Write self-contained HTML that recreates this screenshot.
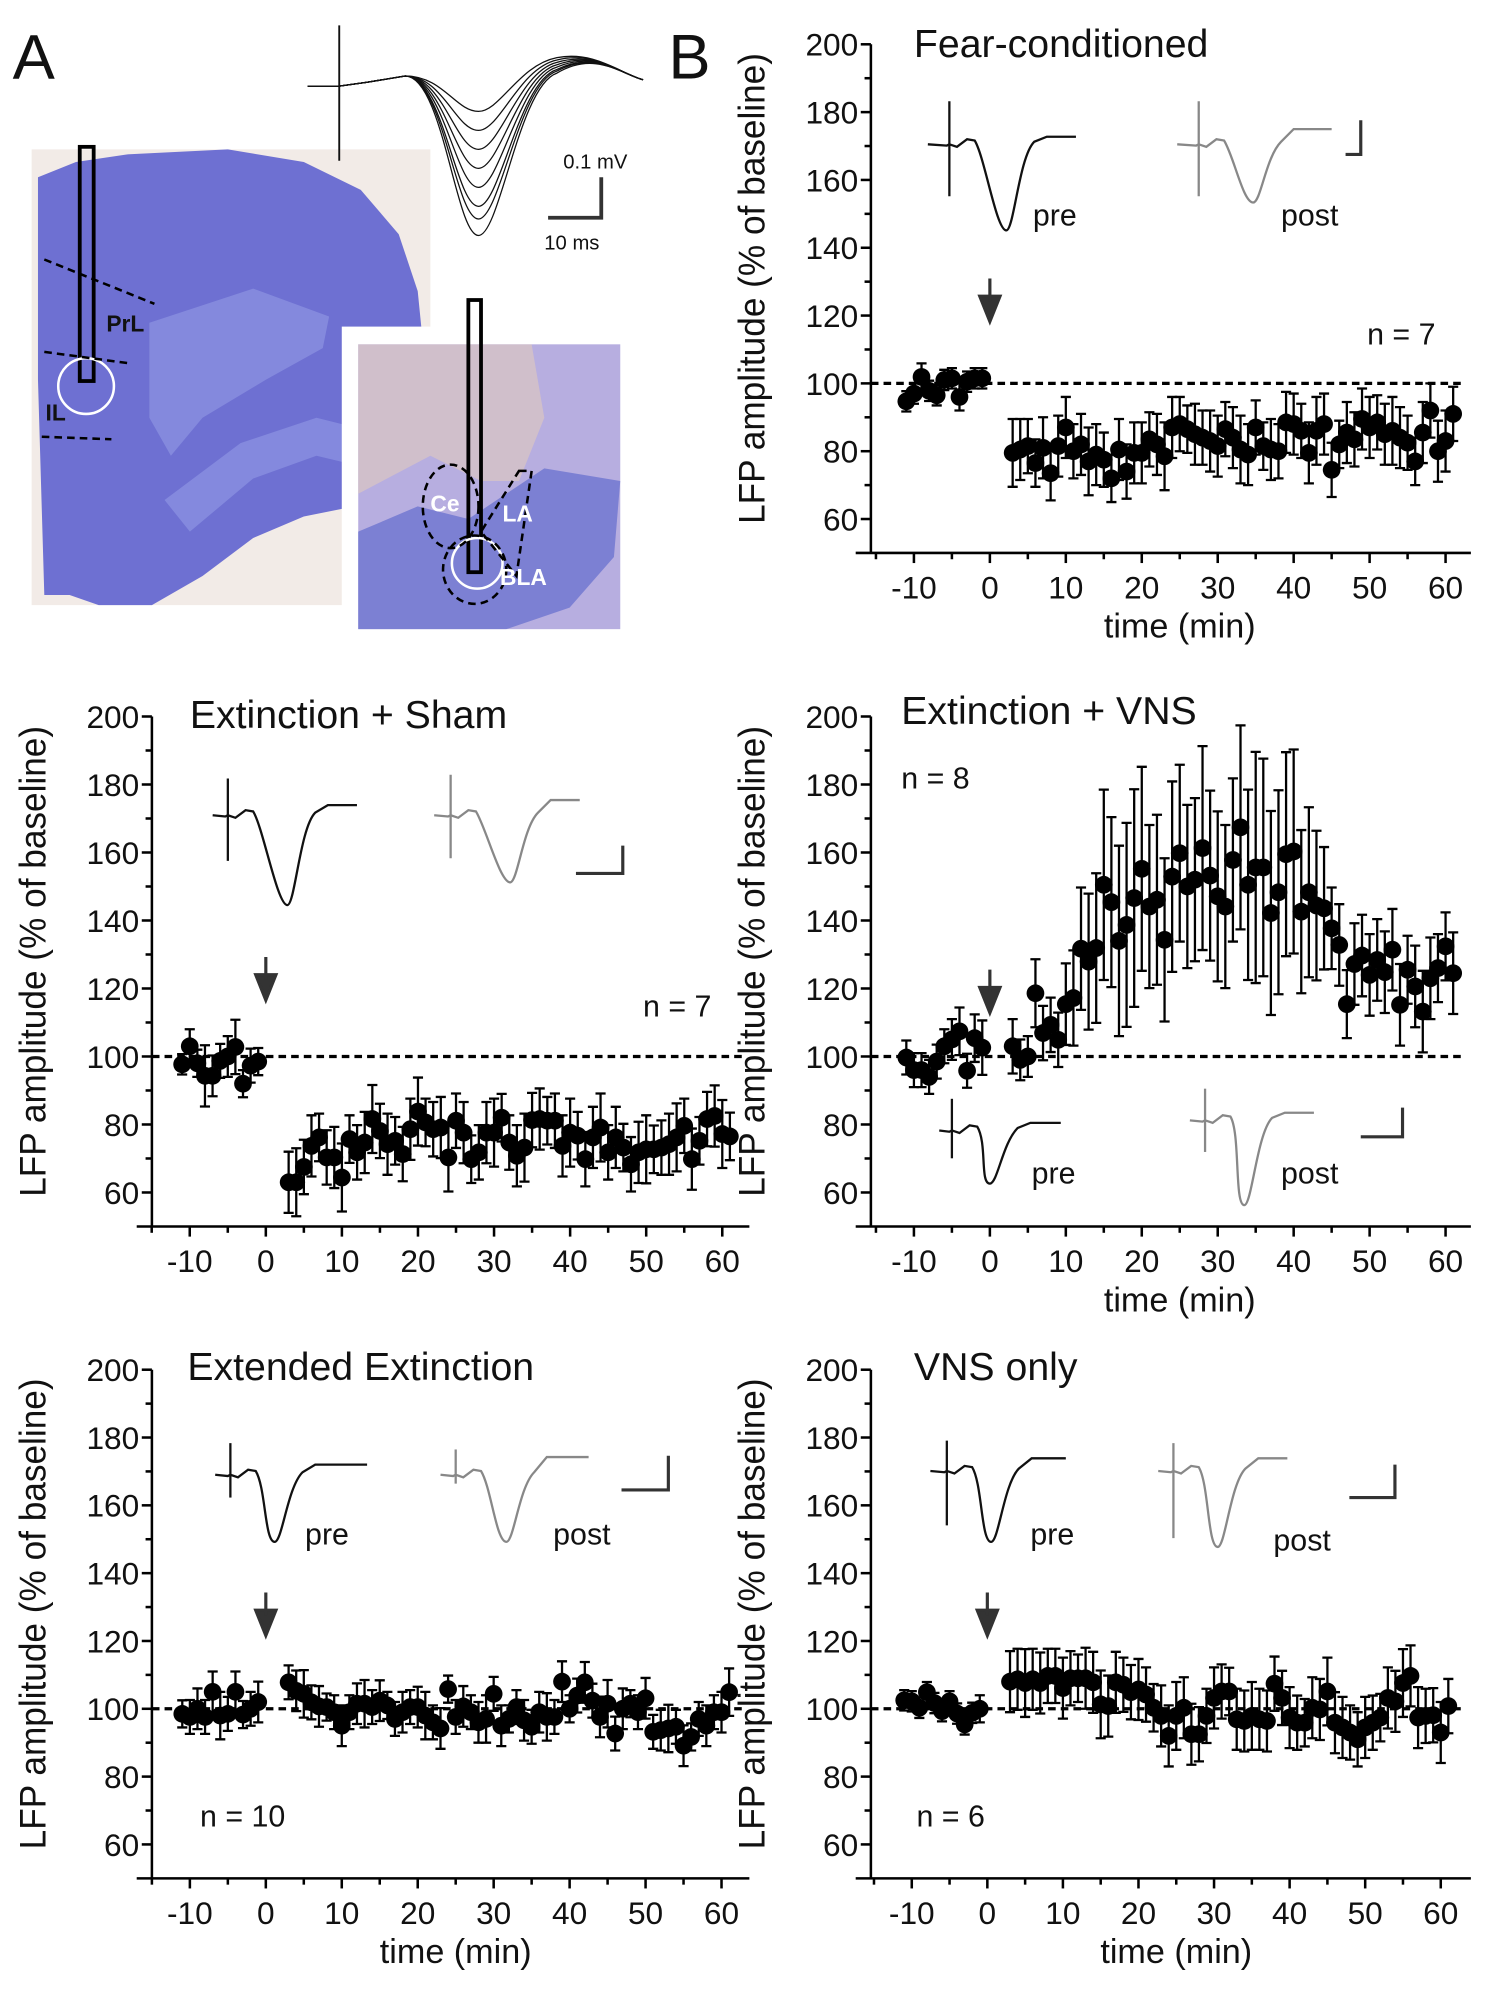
<!DOCTYPE html>
<html><head><meta charset="utf-8"><style>
html,body{margin:0;padding:0;background:#fff}
svg{display:block}
text{font-family:"Liberation Sans",Arial,sans-serif;fill:#111}
</style></head><body>
<svg id="fig" xmlns="http://www.w3.org/2000/svg" width="1500" height="1990" viewBox="0 0 1185 1572" preserveAspectRatio="none">
<rect width="1185" height="1572" fill="#fff"/>
<g id="panelA">
  <text x="10" y="62" font-size="50">A</text>
  <rect x="25" y="118" width="315" height="360" fill="#f2ebe7"/>
  <path fill="#6e70d2" d="M30,140 L60,128 L100,122 L180,118 L240,128 L285,150 L315,185 L330,230 L333,260 L333,378 L300,378 L280,400 L240,408 L200,425 L160,455 L120,478 L78,478 L55,470 L35,470 L30,300 Z"/>
  <path fill="#8a90e0" opacity="0.8" d="M118,255 L200,228 L260,250 L255,275 L210,300 L160,330 L135,360 L118,330 Z"/>
  <path fill="#8d94e2" opacity="0.7" d="M130,395 L190,350 L250,330 L310,345 L300,372 L250,360 L200,378 L150,420 Z"/>
  <rect x="270" y="258" width="225" height="245" fill="#fff"/>
  <rect x="283" y="272" width="207" height="225" fill="#b7aee0"/>
  <path fill="#d8c4c4" opacity="0.75" d="M283,272 L420,272 L430,330 L410,380 L380,380 L340,360 L283,390 Z"/>
  <path fill="#6d74d0" opacity="0.8" d="M283,420 L330,400 L370,410 L430,370 L490,380 L485,440 L450,480 L400,497 L283,497 Z"/>
  <rect x="63" y="116" width="11" height="185" fill="none" stroke="#000" stroke-width="3"/>
  <circle cx="68" cy="305" r="22" fill="none" stroke="#fff" stroke-width="2"/>
  <rect x="370" y="237" width="10" height="215" fill="none" stroke="#000" stroke-width="3"/>
  <circle cx="377" cy="445" r="20" fill="none" stroke="#fff" stroke-width="2"/>
  <g stroke="#000" stroke-width="2" stroke-dasharray="6,4" fill="none">
    <line x1="35" y1="205" x2="122" y2="240"/><line x1="35" y1="278" x2="102" y2="287"/><line x1="33" y1="345" x2="88" y2="347"/>
    <ellipse cx="356" cy="400" rx="22" ry="33"/><path d="M410,372 L420,372 L408,455 L380,420 Z"/><ellipse cx="375" cy="450" rx="25" ry="27"/>
  </g>
  <text x="84" y="262" font-size="18" font-weight="bold" fill="#111">PrL</text>
  <text x="36" y="332" font-size="18" font-weight="bold">IL</text>
  <text x="340" y="404" font-size="18" font-weight="bold" style="fill:#fff">Ce</text>
  <text x="397" y="412" font-size="18" font-weight="bold" style="fill:#fff">LA</text>
  <text x="395" y="462" font-size="18" font-weight="bold" style="fill:#fff">BLA</text>
  <g id="sweeps" fill="none" stroke="#111" stroke-width="1"></g>
  <g stroke="#333" stroke-width="3" fill="none"><path d="M433,172 L475,172 L475,140"/></g>
  <text x="445" y="133" font-size="16">0.1 mV</text>
  <text x="430" y="197" font-size="16">10 ms</text>
</g>
<text x="528" y="62" font-size="50">B</text>
</svg>
<script>
const preTimes = [-11,-10,-9,-8,-7,-6,-5,-4,-3,-2,-1];
const postStart = 3;
const fearPre = [94.7,97,101.9,97.8,96.5,101,101.5,96,100.5,101.5,101.5];
const fearPost = [79.5,80.5,81.5,76.5,81,73.5,81.5,87,80,82,77,79,77.5,72,80.5,74,79.5,79.5,83.5,82,78.5,87,88,86.5,85,84,83,81.5,86.5,84,80.5,79,87,81.5,80.5,80,88.5,88,86,79.5,86,88,74.5,82,85.5,83.5,89.5,87,88.5,85,86,84,82.5,77,85.5,92,80,83,91];
const fearErr = [3,3,4,3,3,3,3,4,3,3,3].concat(Array(59).fill(0).map((_, i) => [10,9,8,7,9,8,9,9,8,9][i % 10]));
const shamPre = [97.7,103,98,94.3,94.3,98.7,100,102.8,92,97.3,98.5];
const shamPost = [63,63,67.5,73.7,76.2,70.3,70.3,64.4,75.7,71.8,74.7,81.6,78.1,74.2,75.2,71.3,78.6,83.8,80.6,78.6,79.1,70.3,81.1,77.6,69.8,71.8,77.6,77.6,82,74.7,70.8,73.2,81.3,81.6,81.1,81.1,73.7,77.6,76.7,69.8,76.2,79.1,71.8,76.2,73.2,68.3,71.8,72.7,72.7,73.2,74.2,76.2,79.6,69.8,75.2,81.6,82.5,77.2,76.5];
const shamErr = [3,5,4,9,6,5,6,8,4,5,4].concat(Array(59).fill(0).map((_, i) => [9,10,8,9,7,8,9,10,7,8][i % 10]));
const vnsPre = [99.7,96,96,94,98.5,103,105,107.4,95.8,105.4,102.6];
const vnsPost = [103,99,100,118.6,106.9,109.3,104.9,115.4,117.2,131.7,127.9,131.9,150.5,145.4,134,138.7,146.6,155.2,144.1,146.1,134.3,152.9,159.8,150,152,161.3,153.2,147.1,144.1,157.8,167.4,150.5,155.6,155.6,142.2,148.3,159.5,160.3,142.6,148.3,144.4,143.6,137.7,132.8,115.4,127.2,129.7,124,128.4,124.8,131.4,115.2,125.5,120.6,113.2,123,126,132.4,124.5];
const vnsErr = [5,5,5,5,5,5,6,7,5,7,8].concat([8,6,6,10,8,8,8,12,14,18,20,22,28,25,28,30,32,30,24,25,24,28,26,24,24,30,25,25,24,24,30,28,34,32,30,30,30,30,24,25,22,18,12,12,10,12,12,12,12,12,12,12,10,12,12,12,10,10,12]);
const extPre = [98.5,97.6,100,97.6,105,98,98.5,105,98.3,100,102];
const extPost = [107.8,105.3,104.4,101.9,100.7,100.5,99,95,99,101.5,101.5,100.5,102.4,101,97,99,100.5,100.5,98,96,94.2,105.8,97.6,100.7,99,96,97,104.4,95,97,100.5,96.6,94.7,99,97.6,97.6,108,100,103.9,107.8,102.4,97.6,101.5,92.7,100,101.5,99,103.1,93.2,93.7,94.2,94.7,89.1,91.7,97,95,99,99,104.9];
const extErr = Array(70).fill(0).map((_, i) => [4,5,6,5,6,7,5,6][i % 8]);
const onlyPre = [102.5,102.2,100.3,104.9,101.7,99.3,102.2,98.6,95.4,98.8,100];
const onlyPost = [108,108.7,107.6,108.7,107.6,109.7,109.7,106.1,109,109,109,107.8,101.3,100.8,107.8,107.1,104.9,105.7,104.2,100.3,97.9,92,97.9,100.3,92.5,92.5,97.9,103.2,105.1,105.1,96.9,96.4,97.9,96.9,96.4,107.4,103.2,97.4,95.9,95.9,100.3,99.8,105.1,95.9,94.5,93,91,94.5,95.9,97.4,103.2,102.2,107.6,109.7,97.4,97.9,98.1,93,100.8];
const onlyErr = [3,3,3,3,3,3,3,3,3,3,4].concat(Array(59).fill(0).map((_, i) => [9,9,10,9,9,8,8,9,8,7][i % 10]));
const yTicks = [60,80,100,120,140,160,180,200];
const xTicks = [-10,0,10,20,30,40,50,60];

const NS = "http://www.w3.org/2000/svg";
const svg = document.getElementById('fig');
function mk(tag, attrs, parent) {
  const e = document.createElementNS(NS, tag);
  for (const k in attrs) e.setAttribute(k, attrs[k]);
  (parent || svg).appendChild(e);
  return e;
}

function drawPanel(p) {
  const g = mk('g', {});
  
  
  const sy = (p.y60 - p.y200) / 140;
  const yS = v => p.y60 - (v - 60) * sy;
  const xS = t => p.x0 + t * p.px;
  const axY = yS(50);
  const ya = mk('line', {x1: p.ax, y1: yS(200), x2: p.ax, y2: axY, stroke: '#000', 'stroke-width': 2}, g);
  
  
  const xa = mk('line', {x1: p.ax - 12, y1: axY, x2: p.xEnd, y2: axY, stroke: '#000', 'stroke-width': 2}, g);
  
  
  for (let v = 60; v <= 200; v += 10) {
    const major = v % 20 === 0;
    mk('line', {x1: p.ax - (major ? 8 : 5), y1: yS(v), x2: p.ax, y2: yS(v), stroke: '#000', 'stroke-width': 2}, g);
  }
  yTicks.forEach(v => {
    const t = mk('text', {x: p.ax - 10, y: yS(v) + 9, 'font-size': 25, 'text-anchor': 'end'}, g);
    t.textContent = v;
    
    
  });
  for (let t = -15; t <= 60; t += 5) {
    const major = t % 10 === 0;
    mk('line', {x1: xS(t), y1: axY, x2: xS(t), y2: axY + (major ? 8 : 5), stroke: '#000', 'stroke-width': 2}, g);
  }
  xTicks.forEach(v => {
    const t = mk('text', {x: xS(v), y: axY + 36, 'font-size': 25, 'text-anchor': 'middle'}, g);
    t.textContent = v;
    
    
  });
  if (p.xTitle) {
    const t = mk('text', {x: (xS(-10) + xS(60)) / 2, y: axY + 67, 'font-size': 27, 'text-anchor': 'middle'}, g);
    t.textContent = 'time (min)';
    
    
  }
  const cy = (yS(200) + axY) / 2 - 8;
  const yt = mk('text', {x: 0, y: 0, 'font-size': 29, 'text-anchor': 'middle', textLength: 372, lengthAdjust: 'spacingAndGlyphs', transform: `translate(${p.ax - 84},${cy}) rotate(-90)`}, g);
  yt.textContent = 'LFP amplitude (% of baseline)';
  
  
  const ti = mk('text', {x: p.titleX, y: p.titleY, 'font-size': 31}, g);
  ti.textContent = p.title;
  
  
  const nl = mk('text', {x: p.nX, y: p.nY, 'font-size': 24}, g);
  nl.textContent = p.nText;
  
  
  const dl = mk('line', {x1: p.ax, y1: yS(100), x2: p.xEnd - 4, y2: yS(100), stroke: '#000', 'stroke-width': 2.6, 'stroke-dasharray': '6,4'}, g);
  
  
  const ar = mk('path', {d: `M${xS(0)},${p.arrowY} L${xS(0)},${p.arrowY + 18} M${xS(0) - 8},${p.arrowY + 14} L${xS(0) + 8},${p.arrowY + 14} L${xS(0)},${p.arrowY + 34} Z`, stroke: '#333', 'stroke-width': 2.5, fill: '#333'}, g);
  
  
  const pts = [];
  p.pre.forEach((v, i) => pts.push([preTimes[i], v]));
  p.post.forEach((v, i) => pts.push([postStart + i, v]));
  pts.forEach((pt, i) => {
    const e = p.err[i] || 5;
    const x = xS(pt[0]);
    const eb = mk('path', {d: `M${x},${yS(pt[1] + e)} L${x},${yS(pt[1] - e)} M${x - 4},${yS(pt[1] + e)} L${x + 4},${yS(pt[1] + e)} M${x - 4},${yS(pt[1] - e)} L${x + 4},${yS(pt[1] - e)}`, stroke: '#000', 'stroke-width': 1.8, fill: 'none'}, g);
    
    
  });
  pts.forEach(pt => {
    const c = mk('circle', {cx: xS(pt[0]), cy: yS(pt[1]), r: 7, fill: '#000'}, g);
    
    
  });
  p.traces.forEach(tr => {
    const [x0, b, w, art, artTop, artBot, tx, ty, col, rise] = tr;
    const d = `M${x0},${b} L${art - 2},${b + 1} L${art},${b} L${art + 6},${b + 2} L${art + 14},${b - 4} L${art + 20},${b - 3} C${art + 28},${b + 10} ${tx - 8},${ty} ${tx},${ty} C${tx + 6},${ty} ${tx + 10},${b + 10} ${tx + 22},${b - 2} L${tx + 32},${b - 6 - rise} L${x0 + w},${b - 6 - rise}`;
    const pa = mk('path', {d: d, stroke: col, 'stroke-width': 1.8, fill: 'none'}, g);
    
    
    const a = mk('line', {x1: art, y1: artTop, x2: art, y2: artBot, stroke: col, 'stroke-width': 1.8}, g);
    
    
  });
  p.labels.forEach(l => {
    const t = mk('text', {x: l[1], y: l[2], 'font-size': 24}, g);
    t.textContent = l[0];
    
    
  });
  const sb = mk('path', {d: `M${p.sb[0]},${p.sb[2]} L${p.sb[1]},${p.sb[2]} L${p.sb[1]},${p.sb[3]}`, stroke: '#333', 'stroke-width': 2.5, fill: 'none'}, g);
  
  
}

drawPanel({name: 'panel-fear-conditioned', ax: 688, x0: 782, px: 6, y200: 35, y60: 410, xEnd: 1162, xTitle: true,
  title: 'Fear-conditioned', titleX: 722, titleY: 45, nText: 'n = 7', nX: 1080, nY: 272, arrowY: 220,
  pre: fearPre, post: fearPost, err: fearErr,
  traces: [[733,114,117,750,80,155,795,182,'#111',0],[930,114,122,947,80,155,990,160,'#888',6]],
  labels: [['pre',816,178],['post',1012,178]], sb: [1063,1075,122,95]});
drawPanel({name: 'panel-extinction-sham', ax: 120, x0: 210, px: 6.01, y200: 566, y60: 942, xEnd: 592, xTitle: false,
  title: 'Extinction + Sham', titleX: 150, titleY: 575, nText: 'n = 7', nX: 508, nY: 803, arrowY: 756,
  pre: shamPre, post: shamPost, err: shamErr,
  traces: [[168,644,114,180,615,680,227,715,'#111',2],[343,644,115,356,612,678,403,697,'#888',6]],
  labels: [], sb: [455,492,690,668]});
drawPanel({name: 'panel-extinction-vns', ax: 688, x0: 782, px: 6, y200: 566, y60: 942, xEnd: 1162, xTitle: true,
  title: 'Extinction + VNS', titleX: 712, titleY: 572, nText: 'n = 8', nX: 712, nY: 623, arrowY: 766,
  pre: vnsPre, post: vnsPost, err: vnsErr,
  traces: [[742,893,96,752,868,915,782,935,'#111',0],[940,885,98,952,860,910,983,952,'#888',0]],
  labels: [['pre',815,935],['post',1012,935]], sb: [1075,1108,898,875]});
drawPanel({name: 'panel-extended-extinction', ax: 120, x0: 210, px: 6, y200: 1082, y60: 1457, xEnd: 592, xTitle: true,
  title: 'Extended Extinction', titleX: 148, titleY: 1090, nText: 'n = 10', nX: 158, nY: 1443, arrowY: 1258,
  pre: extPre, post: extPost, err: extErr,
  traces: [[170,1165,120,182,1140,1183,217,1218,'#111',2],[348,1165,117,360,1145,1172,400,1218,'#888',8]],
  labels: [['pre',241,1220],['post',437,1220]], sb: [491,528,1177,1150]});
drawPanel({name: 'panel-vns-only', ax: 688, x0: 780, px: 5.97, y200: 1082, y60: 1457, xEnd: 1162, xTitle: true,
  title: 'VNS only', titleX: 722, titleY: 1090, nText: 'n = 6', nX: 724, nY: 1443, arrowY: 1258,
  pre: onlyPre, post: onlyPost, err: onlyErr,
  traces: [[735,1162,107,748,1138,1205,783,1218,'#111',4],[915,1162,102,927,1140,1215,962,1222,'#888',4]],
  labels: [['pre',814,1220],['post',1006,1225]], sb: [1066,1102,1183,1157]});

const sweepDepths = [20,35,50,65,80,95,105,118];
const sw = document.getElementById('sweeps');
sweepDepths.forEach(dp => {
  const b = 68;
  const p = mk('path', {d: `M243,${b} L268,${b} L290,${b - 3} L320,${b - 8} C350,${b - 8} 360,${b + dp} 378,${b + dp} C395,${b + dp} 410,${b - 20 + dp / 6} 440,${b - 25 + dp / 8} C470,${b - 28} 490,${b - 10} 508,${b - 5}`}, sw);
  
  
});
const art = mk('line', {x1: 268, y1: 20, x2: 268, y2: 127, stroke: '#111', 'stroke-width': 1.5}, sw);


</script>
</body></html>
